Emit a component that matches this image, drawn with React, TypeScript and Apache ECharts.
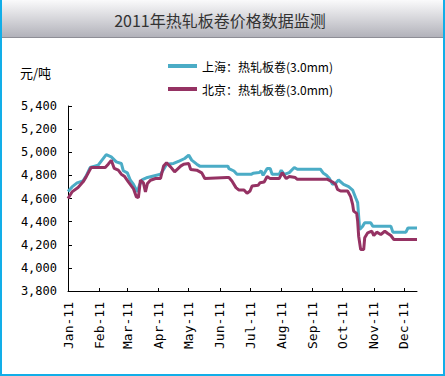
import React, { useEffect, useRef } from "react";
import * as echarts from "echarts";

const titleText = "2011年热轧板卷价格数据监测";
const unitText = "元/吨";
const seriesNames = ["上海：热轧板卷(3.0mm)", "北京：热轧板卷(3.0mm)"];
const seriesColors = ["#4bacc6", "#953263"];

const shDates = [
  "2011-01-01", "2011-01-05", "2011-01-10", "2011-01-16", "2011-01-19", "2011-01-23", "2011-01-31",
  "2011-02-08", "2011-02-13", "2011-02-18", "2011-02-23", "2011-02-25", "2011-03-01", "2011-03-04",
  "2011-03-07", "2011-03-11", "2011-03-13", "2011-03-16", "2011-03-21", "2011-03-26", "2011-04-03",
  "2011-04-06", "2011-04-09", "2011-04-16", "2011-04-22", "2011-04-27", "2011-05-01", "2011-05-04",
  "2011-05-09", "2011-05-12", "2011-06-09", "2011-06-10", "2011-06-15", "2011-06-18", "2011-07-02",
  "2011-07-04", "2011-07-10", "2011-07-12", "2011-07-14", "2011-07-18", "2011-07-21", "2011-07-23",
  "2011-07-30", "2011-08-01", "2011-08-04", "2011-08-09", "2011-08-14", "2011-08-17", "2011-09-09",
  "2011-09-12", "2011-09-15", "2011-09-18", "2011-09-21", "2011-09-24", "2011-09-27", "2011-10-02",
  "2011-10-07", "2011-10-11", "2011-10-14", "2011-10-16", "2011-10-17", "2011-10-18", "2011-10-21",
  "2011-10-23", "2011-10-29", "2011-10-31", "2011-11-18", "2011-11-20", "2011-12-03", "2011-12-05",
  "2011-12-14",
];
const shValues = [
  4660, 4700, 4735, 4753, 4793, 4868, 4888,
  4980, 4960, 4917, 4903, 4840, 4822, 4758,
  4724, 4657, 4715, 4764, 4782, 4793, 4810,
  4851, 4897, 4903, 4926, 4946, 4975, 4932,
  4897, 4880, 4880, 4859, 4838, 4809, 4809,
  4818, 4824, 4838, 4801, 4859, 4859, 4809,
  4809, 4844, 4809, 4824, 4868, 4853, 4853,
  4818, 4801, 4772, 4723, 4731, 4760, 4723,
  4703, 4673, 4607, 4564, 4448, 4332, 4361,
  4390, 4390, 4361, 4361, 4309, 4309, 4345,
  4345,
];

const bjDates = [
  "2011-01-01", "2011-01-05", "2011-01-11", "2011-01-16", "2011-01-19", "2011-01-24", "2011-02-07",
  "2011-02-10", "2011-02-13", "2011-02-16", "2011-02-20", "2011-02-23", "2011-02-26", "2011-03-02",
  "2011-03-07", "2011-03-10", "2011-03-12", "2011-03-14", "2011-03-17", "2011-03-19", "2011-03-21",
  "2011-03-24", "2011-03-29", "2011-04-03", "2011-04-06", "2011-04-09", "2011-04-13", "2011-04-17",
  "2011-04-23", "2011-04-26", "2011-05-01", "2011-05-03", "2011-05-09", "2011-05-14", "2011-05-17",
  "2011-06-08", "2011-06-10", "2011-06-13", "2011-06-17", "2011-06-20", "2011-06-25", "2011-06-28",
  "2011-07-01", "2011-07-03", "2011-07-09", "2011-07-11", "2011-07-15", "2011-07-18", "2011-07-21",
  "2011-07-30", "2011-08-02", "2011-08-06", "2011-08-09", "2011-08-15", "2011-08-17", "2011-09-16",
  "2011-09-21", "2011-09-24", "2011-09-26", "2011-09-29", "2011-10-06", "2011-10-09", "2011-10-11",
  "2011-10-12", "2011-10-15", "2011-10-16", "2011-10-17", "2011-10-19", "2011-10-22", "2011-10-23",
  "2011-10-26", "2011-10-30", "2011-11-01", "2011-11-04", "2011-11-08", "2011-11-12", "2011-11-15",
  "2011-11-18", "2011-11-21", "2011-12-14",
];
const bjValues = [
  4600, 4657, 4695, 4744, 4787, 4868, 4868,
  4897, 4930, 4860, 4845, 4810, 4793, 4744,
  4686, 4614, 4608, 4758, 4735, 4657, 4730,
  4758, 4773, 4773, 4880, 4909, 4874, 4831,
  4880, 4897, 4903, 4851, 4845, 4822, 4773,
  4782, 4782, 4751, 4694, 4673, 4673, 4645,
  4665, 4708, 4714, 4737, 4743, 4790, 4772,
  4772, 4824, 4772, 4790, 4781, 4766, 4766,
  4743, 4723, 4679, 4665, 4665, 4616, 4549,
  4491, 4471, 4404, 4274, 4158, 4158, 4260,
  4303, 4317, 4280, 4309, 4289, 4317, 4297,
  4280, 4245, 4245,
];

const yMin = 3800;
const yMax = 5400;
const yStep = 200;
const monthNames = ["Jan", "Feb", "Mar", "Apr", "May", "Jun", "Jul", "Aug", "Sep", "Oct", "Nov", "Dec"];
const axisStart = "2011-01-01";
const axisEnd = "2011-12-14";

function buildDays(start: string, end: string): string[] {
  const out: string[] = [];
  const d = new Date(start + "T00:00:00Z");
  const e = new Date(end + "T00:00:00Z");
  while (d.getTime() <= e.getTime()) {
    out.push(d.toISOString().slice(0, 10));
    d.setUTCDate(d.getUTCDate() + 1);
  }
  return out;
}

export default function App() {
  const ref = useRef<HTMLDivElement>(null);
  useEffect(() => {
    if (!ref.current) return;
    const chart = echarts.init(ref.current, undefined, { renderer: "svg" });
    const days = buildDays(axisStart, axisEnd);
    const isMonthStart = (_i: number, v: string) => v.slice(8, 10) === "01";
    const monoFont = "'DejaVu Sans Mono', monospace";
    chart.setOption({
      animation: false,
      backgroundColor: "#ffffff",
      grid: { left: 68, top: 106, width: 349, height: 185, containLabel: false },
      legend: {
        orient: "vertical",
        left: 163,
        top: 55,
        itemWidth: 29,
        itemHeight: 4,
        itemGap: 11,
        icon: "rect",
        textStyle: { fontSize: 12, color: "#000", fontFamily: "'Noto Sans CJK SC', sans-serif" },
        data: seriesNames,
      },
      xAxis: {
        type: "category",
        data: days,
        boundaryGap: false,
        axisLine: { lineStyle: { color: "#000", width: 1 } },
        axisTick: { inside: true, length: 3, interval: isMonthStart, lineStyle: { color: "#000" } },
        axisLabel: {
          interval: isMonthStart,
          rotate: 90,
          margin: 11,
          fontSize: 13,
          color: "#000",
          fontFamily: monoFont,
          formatter: (v: string) => monthNames[parseInt(v.slice(5, 7), 10) - 1] + "-" + v.slice(2, 4),
        },
        splitLine: { show: false },
      },
      yAxis: {
        type: "value",
        min: yMin,
        max: yMax,
        interval: yStep,
        axisLine: { show: true, lineStyle: { color: "#000", width: 1 } },
        axisTick: { show: true, inside: true, length: 4, lineStyle: { color: "#000" } },
        axisLabel: {
          margin: 11,
          fontSize: 12,
          color: "#000",
          fontFamily: monoFont,
          formatter: (v: number) => v.toLocaleString("en-US"),
        },
        splitLine: { show: false },
      },
      graphic: [
        {
          type: "rect",
          shape: { x: 0, y: 0, width: 445, height: 37 },
          style: {
            fill: new echarts.graphic.LinearGradient(0, 0, 0, 1, [
              { offset: 0, color: "#fafafb" },
              { offset: 1, color: "#b2b2ba" },
            ]),
          },
          silent: true,
        },
        {
          type: "line",
          shape: { x1: 0, y1: 37.5, x2: 445, y2: 37.5 },
          style: { stroke: "#8e8e96", lineWidth: 1 },
          silent: true,
        },
        {
          type: "text",
          x: 220,
          y: 20,
          style: {
            text: titleText,
            fontSize: 16,
            fill: "#333",
            fontFamily: "'Noto Sans CJK SC', sans-serif",
            align: "center",
            verticalAlign: "middle",
          },
          silent: true,
        },
        {
          type: "text",
          x: 20,
          y: 72,
          style: {
            text: unitText,
            fontSize: 13,
            fill: "#000",
            fontFamily: "'Noto Sans CJK SC', sans-serif",
            align: "left",
            verticalAlign: "middle",
          },
          silent: true,
        },
        {
          type: "line",
          shape: { x1: 1, y1: 0, x2: 1, y2: 376 },
          style: { stroke: "#12aee8", lineWidth: 2 },
          silent: true,
        },
        {
          type: "line",
          shape: { x1: 444, y1: 0, x2: 444, y2: 376 },
          style: { stroke: "#12aee8", lineWidth: 2 },
          silent: true,
        },
        {
          type: "line",
          shape: { x1: 0, y1: 375, x2: 445, y2: 375 },
          style: { stroke: "#12aee8", lineWidth: 2 },
          silent: true,
        },
      ],
      series: [
        {
          name: seriesNames[0],
          type: "line",
          symbol: "none",
          color: seriesColors[0],
          lineStyle: { width: 3, color: seriesColors[0] },
          data: shDates.map((d, i) => [d, shValues[i]]),
          z: 2,
        },
        {
          name: seriesNames[1],
          type: "line",
          symbol: "none",
          color: seriesColors[1],
          lineStyle: { width: 3, color: seriesColors[1] },
          data: bjDates.map((d, i) => [d, bjValues[i]]),
          z: 3,
        },
      ],
    });
    return () => chart.dispose();
  }, []);
  return (
    <div
      ref={ref}
      style={{ position: "absolute", left: 0, top: 0, width: 445, height: 376 }}
    />
  );
}
